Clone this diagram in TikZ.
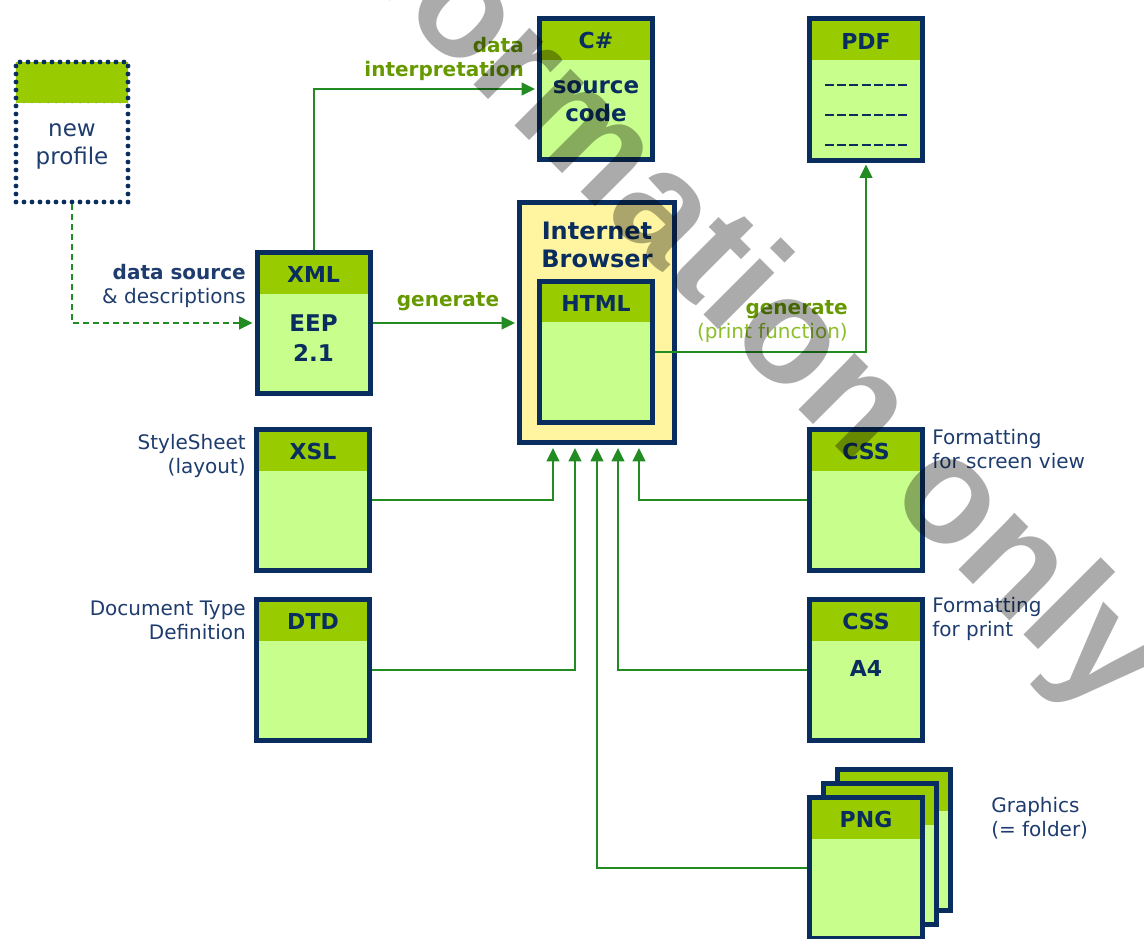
\documentclass[tikz,border=0pt]{standalone}
\usepackage{fontspec}
\setmainfont{DejaVu Sans}
\newfontfamily\wmfont{Liberation Sans}
\usetikzlibrary{arrows.meta,calc}
\definecolor{navy}{RGB}{10,45,95}
\definecolor{lbl}{RGB}{30,60,110}
\definecolor{hdrg}{RGB}{153,204,0}
\definecolor{bodyg}{RGB}{200,255,140}
\definecolor{yell}{RGB}{255,245,160}
\definecolor{connc}{RGB}{34,139,34}
\definecolor{lgreen}{RGB}{102,153,0}
\definecolor{pgreen}{RGB}{140,190,40}
\tikzset{
  doc/.style={draw=navy, line width=3.75pt, fill=bodyg, minimum width=84.75pt,
    minimum height=105.75pt, inner sep=0pt,
    path picture={\fill[hdrg] (path picture bounding box.north west) rectangle
      ([yshift=-31.1pt]path picture bounding box.north east);}},
  newbox/.style={draw=navy, line width=3.6pt, dash pattern=on 0pt off 6pt, line cap=round,
    fill=white, minimum width=84pt, minimum height=105pt, inner sep=0pt,
    path picture={\fill[hdrg] (path picture bounding box.north west) rectangle
      ([yshift=-30.75pt]path picture bounding box.north east);
      \draw[navy!60, line width=0.75pt] ([yshift=-30.75pt]path picture bounding box.north west) --
      ([yshift=-30.75pt]path picture bounding box.north east);}},
  browserbox/.style={draw=navy, line width=3.75pt, fill=yell, minimum width=116.25pt,
    minimum height=180pt, inner sep=0pt},
  ttl/.style={font=\bfseries\fontsize{16.5}{20}\selectfont, text=navy, inner sep=0pt},
  bodytxt/.style={font=\bfseries\fontsize{17.25}{21}\selectfont, text=navy, align=center, inner sep=0pt},
  side/.style={font=\fontsize{15}{18}\selectfont, text=lbl, inner sep=0pt},
  glabel/.style={font=\bfseries\fontsize{15}{18}\selectfont, text=lgreen, inner sep=0pt},
  conn/.style={draw=connc, line width=1.5pt},
  arr/.style={conn, -{Triangle[length=10pt,width=9.5pt]}, shorten >=1.5pt},
  dashconn/.style={arr, dash pattern=on 4.5pt off 3pt},
  pdfline/.style={draw=navy, line width=2.2pt, dash pattern=on 6.75pt off 2.4pt},
}
\begin{document}
\begin{tikzpicture}[x=0.75pt,y=-0.75pt]
\useasboundingbox (0,0) rectangle (1144,938);
\clip (0,0) rectangle (1144,938);

% boxes
\node[newbox] (np) at (72,132) {};
\node[font=\fontsize{17.25}{21}\selectfont, text=lbl, align=center, inner sep=0pt] (npT) at (72,146) {new\\profile};

\node[doc] (cs) at (596,89) {};
\node[ttl] (csT) at ($(cs.north)+(0,24.5)$) {C\#};
\node[bodytxt] (csB) at (596,101) {source\\code};

\node[doc] (pdf) at (866,89.5) {};
\node[ttl] (pdfT) at ($(pdf.north)+(0,24.5)$) {PDF};
\coordinate (d1a) at (825,85); \coordinate (d1b) at (908,85);
\coordinate (d2a) at (825,115); \coordinate (d2b) at (908,115);
\coordinate (d3a) at (825,145); \coordinate (d3b) at (908,145);
\draw[pdfline] (d1a) -- (d1b);
\draw[pdfline] (d2a) -- (d2b);
\draw[pdfline] (d3a) -- (d3b);

\node[doc] (xml) at (313.5,323) {};
\node[ttl] (xmlT) at ($(xml.north)+(0,24.5)$) {XML};
\node[bodytxt, font=\bfseries\fontsize{17.25}{23}\selectfont] (xmlB) at (313.5,338) {EEP\\2.1};

\node[browserbox] (br) at (597,322.5) {};
\node[font=\bfseries\fontsize{18}{21}\selectfont, text=navy, align=center, inner sep=0pt] (brT) at (597,245) {Internet\\Browser};
\node[doc] (html) at (596,351.5) {};
\node[ttl] (htmlT) at ($(html.north)+(0,24.5)$) {HTML};

\node[doc] (xsl) at (313,500) {};
\node[ttl] (xslT) at ($(xsl.north)+(0,24.5)$) {XSL};
\node[doc] (dtd) at (313,670) {};
\node[ttl] (dtdT) at ($(dtd.north)+(0,24.5)$) {DTD};

\node[doc] (css1) at (866,500) {};
\node[ttl] (css1T) at ($(css1.north)+(0,24.5)$) {CSS};
\node[doc] (css2) at (866,670) {};
\node[ttl] (css2T) at ($(css2.north)+(0,24.5)$) {CSS};
\node[ttl] (css2B) at (866,668) {A4};

\node[doc] (png3) at (894,840) {};
\node[doc] (png2) at (880,854) {};
\node[doc] (png) at (866,868) {};
\node[ttl] (pngT) at ($(png.north)+(0,24.5)$) {PNG};

% arrival points at browser bottom
\coordinate (b1) at ($(br.south)+(-44,1)$);
\coordinate (b2) at ($(br.south)+(-22,1)$);
\coordinate (b3) at ($(br.south)+(0,1)$);
\coordinate (b4) at ($(br.south)+(21,1)$);
\coordinate (b5) at ($(br.south)+(42,1)$);

% connectors
\draw[dashconn] (np.south) |- (xml.west);
\draw[arr] (xml.north) |- (cs.west);
\draw[arr] (xml.east) -- (xml.east -| br.west);
\draw[arr] (html.east) -| (pdf.south);
\draw[arr] (xsl.east) -| (b1);
\draw[arr] (dtd.east) -| (b2);
\draw[arr] (png.west) -| (b3);
\draw[arr] (css2.west) -| (b4);
\draw[arr] (css1.west) -| (b5);

% labels
\node[side, anchor=east, align=right] (lsrc) at (246,286) {{\bfseries data source}\\\& descriptions};
\node[glabel, anchor=east, align=right] (lint) at (524,59) {data\\interpretation};
\node[glabel] (lgen1) at (448,302) {generate};
\node[anchor=east, align=right, inner sep=0pt, font=\fontsize{15}{18}\selectfont] (lgen2) at (848,322)
  {\textcolor{lgreen}{\bfseries generate}\\\textcolor{pgreen}{(print function)}};
\node[side, anchor=east, align=right] (lxsl) at (246,456) {StyleSheet\\(layout)};
\node[side, anchor=east, align=right] (ldtd) at (246,620) {Document Type\\Definition};
\node[side, anchor=west, align=left] (lcss1) at (932,449) {Formatting\\for screen view};
\node[side, anchor=west, align=left] (lcss2) at (932,619) {Formatting\\for print};
\node[side, anchor=west, align=left] (lpng) at (991,818) {Graphics\\(= folder)};

% watermark
\node[anchor=base, rotate=-45, inner sep=0pt, text=black, text opacity=0.33,
  font=\wmfont\bfseries\fontsize{113}{113}\selectfont] (wm) at (688,299) {information only};
\end{tikzpicture}
\end{document}
